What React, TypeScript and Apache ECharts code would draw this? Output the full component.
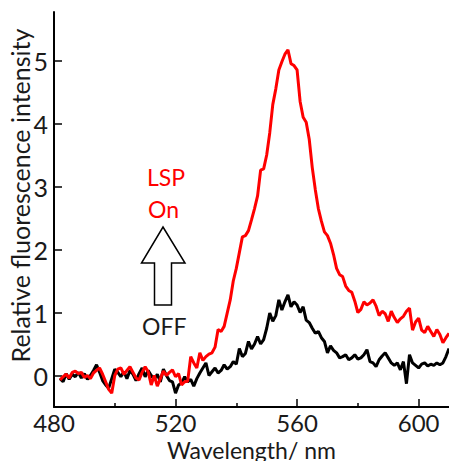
import React, { useEffect, useRef } from "react";
import * as echarts from "echarts";

const wavelengths: number[] = Array.from({ length: 129 }, (_, i) => 482 + i);

const lspOn: number[] = [
  -0.07, -0.02, 0.02, -0.04, 0.05, 0.07, 0.03, 0.05, -0.03, 0.0,
  -0.05, 0.04, 0.08, 0.12, 0.02, -0.1, -0.22, -0.28, 0.0, 0.1,
  0.12, 0.02, 0.08, 0.14, 0.05, -0.04, -0.07, 0.05, 0.14, 0.06,
  -0.15, 0.0, -0.17, -0.05, 0.07, 0.0, 0.05, 0.09, -0.02, 0.03,
  -0.15, -0.1, -0.09, 0.3, 0.2, 0.12, 0.36, 0.24, 0.3, 0.34,
  0.36, 0.45, 0.73, 0.7, 0.78, 0.99, 1.2, 1.5, 1.7, 1.95,
  2.2, 2.22, 2.3, 2.47, 2.65, 2.85, 3.26, 3.28, 3.5, 3.85,
  4.3, 4.55, 4.85, 4.98, 5.1, 5.17, 4.95, 4.92, 4.85, 4.35,
  4.1, 4.02, 3.75, 3.3, 2.95, 2.65, 2.45, 2.28, 2.22, 2.1,
  1.92, 1.7, 1.6, 1.57, 1.42, 1.35, 1.32, 1.18, 1.0, 1.05,
  1.17, 1.12, 1.15, 1.2, 1.1, 0.95, 1.02, 0.98, 0.86, 1.02,
  0.92, 0.84, 0.9, 0.94, 1.02, 1.07, 0.72, 0.85, 0.91, 0.72,
  0.68, 0.78, 0.7, 0.62, 0.73, 0.65, 0.52, 0.6, 0.67,
];

const lspOff: number[] = [
  -0.05, -0.1, 0.03, -0.06, 0.02, -0.02, 0.05, -0.04, 0.03, -0.06,
  0.0, 0.08, 0.17, 0.05, -0.08, -0.15, -0.2, -0.05, 0.1, 0.05,
  -0.02, 0.06, -0.05, 0.08, 0.02, -0.08, 0.03, 0.12, -0.02, 0.08,
  0.0, -0.06, 0.02, -0.1, 0.1, 0.0, -0.08, -0.1, -0.28, -0.15,
  -0.12, -0.02, -0.1, -0.06, -0.17, -0.05, 0.04, 0.12, 0.2, 0.0,
  0.06, 0.12, 0.04, 0.08, 0.17, 0.1, 0.14, 0.22, 0.18, 0.43,
  0.3, 0.35, 0.54, 0.42, 0.5, 0.62, 0.5, 0.57, 0.75, 0.99,
  0.86, 0.95, 1.2, 1.04, 1.17, 1.28, 1.09, 1.17, 1.12, 1.0,
  1.09, 0.88, 0.84, 0.75, 0.67, 0.7, 0.6, 0.54, 0.36, 0.47,
  0.4, 0.36, 0.28, 0.3, 0.33, 0.25, 0.28, 0.33, 0.26, 0.28,
  0.33, 0.41, 0.22, 0.2, 0.14, 0.25, 0.31, 0.36, 0.28, 0.2,
  0.16, 0.2, 0.09, 0.22, -0.13, 0.33, 0.2, 0.16, 0.12, 0.18,
  0.2, 0.15, 0.18, 0.16, 0.2, 0.17, 0.2, 0.3, 0.43,
];

const xMajorTicks: number[] = [480, 520, 560, 600];
const xMinorTicks: number[] = [500, 540, 580];
const yTicks: number[] = [0, 1, 2, 3, 4, 5];

const FONT = "Lato";

export default function App() {
  const ref = useRef<HTMLDivElement>(null);
  useEffect(() => {
    if (!ref.current) return;
    const chart = echarts.init(ref.current, undefined, { renderer: "svg" });
    const offData = wavelengths.map((w, i) => [w, lspOff[i]]);
    const onData = wavelengths.map((w, i) => [w, lspOn[i]]);
    chart.setOption({
      animation: false,
      backgroundColor: "#ffffff",
      grid: { left: 54, right: 0, top: 12, bottom: 54, containLabel: false, outerBoundsMode: "none" },
      xAxis: [
        {
          type: "value",
          min: 480,
          max: 610,
          interval: 40,
          name: "Wavelength/ nm",
          nameLocation: "middle",
          nameGap: 31,
          nameMoveOverlap: false,
          nameTextStyle: { fontFamily: FONT, fontSize: 23, color: "#1a1a1a" },
          axisLine: { onZero: false, lineStyle: { color: "#000", width: 2 } },
          axisTick: { inside: true, length: 8, lineStyle: { color: "#000", width: 1.5 }, customValues: xMajorTicks },
          axisLabel: { fontFamily: FONT, fontSize: 24, color: "#1a1a1a", margin: 3, customValues: xMajorTicks },
          splitLine: { show: false },
        },
        {
          type: "value",
          min: 480,
          max: 610,
          position: "bottom",
          axisLine: { show: false, onZero: false },
          axisTick: { inside: true, length: 4, lineStyle: { color: "#000", width: 1.5 }, customValues: xMinorTicks },
          axisLabel: { show: false },
          splitLine: { show: false },
        },
      ],
      yAxis: {
        type: "value",
        min: -0.5,
        max: 5.77,
        name: "Relative fluorescence intensity",
        nameLocation: "middle",
        nameGap: 22,
        nameMoveOverlap: false,
        nameTextStyle: { fontFamily: FONT, fontSize: 25, color: "#1a1a1a", padding: [0, 0, 0, 28] },
        axisLine: { show: true, onZero: false, lineStyle: { color: "#000", width: 2 } },
        axisTick: { inside: true, length: 8, lineStyle: { color: "#000", width: 1.5 }, customValues: yTicks },
        axisLabel: { fontFamily: FONT, fontSize: 25, color: "#1a1a1a", margin: 6, customValues: yTicks },
        splitLine: { show: false },
      },
      series: [
        {
          name: "OFF",
          type: "line",
          data: offData,
          showSymbol: false,
          lineStyle: { color: "#000000", width: 3 },
          z: 2,
        },
        {
          name: "LSP On",
          type: "line",
          data: onData,
          showSymbol: false,
          lineStyle: { color: "#ff0000", width: 3 },
          z: 3,
        },
      ],
      graphic: [
        { type: "text", left: 147, top: 165, style: { text: "LSP", fontFamily: FONT, fontSize: 23, fill: "#ff0000" } },
        { type: "text", left: 148, top: 197, style: { text: "On", fontFamily: FONT, fontSize: 23, fill: "#ff0000" } },
        {
          type: "polygon",
          shape: {
            points: [
              [163, 227], [185, 263], [171.5, 263], [171.5, 305],
              [154.5, 305], [154.5, 263], [141.5, 263],
            ],
          },
          style: { fill: "#ffffff", stroke: "#000000", lineWidth: 1.5 },
        },
        { type: "text", left: 142, top: 314, style: { text: "OFF", fontFamily: FONT, fontSize: 23, fill: "#1a1a1a" } },
      ],
    });
    return () => chart.dispose();
  }, []);
  return (
    <div
      ref={ref}
      style={{ position: "fixed", left: 0, top: 0, width: 449, height: 461 }}
    />
  );
}
